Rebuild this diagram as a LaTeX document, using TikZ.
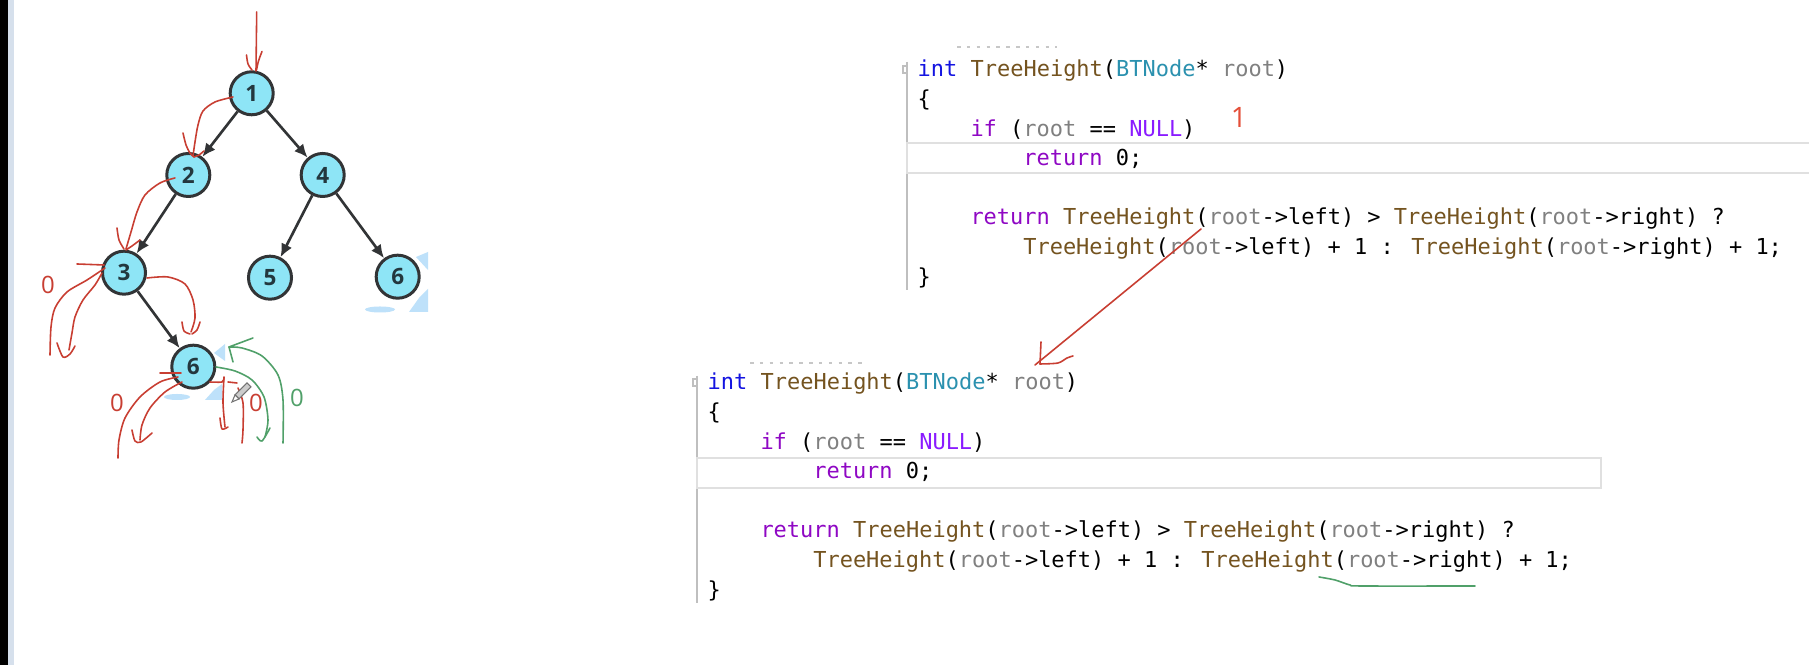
\documentclass[tikz,border=0pt]{standalone}
\usepackage{fontspec}
\usetikzlibrary{arrows.meta}
\newfontfamily\codefont{DejaVu Sans Mono}
\newfontfamily\labelfont{Open Sans}
\definecolor{kwBlue}{RGB}{20,20,225}
\definecolor{fnBrown}{RGB}{116,83,31}
\definecolor{tyTeal}{RGB}{43,145,175}
\definecolor{parGray}{RGB}{128,128,128}
\definecolor{ctlPurple}{RGB}{143,8,196}
\definecolor{macViolet}{RGB}{138,27,255}
\definecolor{redInk}{RGB}{200,62,50}
\definecolor{greenInk}{RGB}{80,160,105}
\definecolor{markRed}{RGB}{228,78,56}
\definecolor{nodeCyan}{RGB}{142,229,246}
\definecolor{edgeGray}{RGB}{50,52,54}
\definecolor{digitDark}{RGB}{35,55,62}
\definecolor{selBlue}{RGB}{190,225,250}
\definecolor{stripBlue}{RGB}{214,224,236}
\newcommand{\cKw}[1]{\textcolor{kwBlue}{#1}}
\newcommand{\cFn}[1]{\textcolor{fnBrown}{#1}}
\newcommand{\cTy}[1]{\textcolor{tyTeal}{#1}}
\newcommand{\cPar}[1]{\textcolor{parGray}{#1}}
\newcommand{\cCtl}[1]{\textcolor{ctlPurple}{#1}}
\newcommand{\cMac}[1]{\textcolor{macViolet}{#1}}

\begin{document}
\begin{tikzpicture}[x=0.01cm, y=-0.01cm, every node/.style={inner sep=0pt}]
  \def\ax{917}
  \def\ay{77}
  \def\bx{707}
  \def\by{390}
  \def\lh{29.6}
  \def\cw{13.2}

  \tikzset{
    tnode/.style={circle, draw=edgeGray, line width=0.85pt, fill=nodeCyan, minimum size=0.43cm, font=\labelfont\bfseries\fontsize{6.4}{7}\selectfont, text=digitDark},
    link/.style={draw=edgeGray, line width=0.75pt, -{Latex[length=3.8pt,width=3.4pt]}},
    codeline/.style={anchor=base west, font=\codefont\fontsize{6.25}{7.5}\selectfont},
    ink/.style={draw=redInk, line width=0.45pt, line cap=round, line join=round},
    gink/.style={draw=greenInk, line width=0.45pt, line cap=round, line join=round},
    hand/.style={font=\labelfont\fontsize{6.8}{7}\selectfont},
    curline/.style={draw=black!12, line width=0.5pt, fill=white},
    guide/.style={draw=black!25, line width=0.3pt},
    stub/.style={draw=black!22, line width=0.6pt, dash pattern=on 1pt off 1.8pt},
    sel/.style={fill=selBlue, draw=none}
  }

  \path[use as bounding box] (0,0) rectangle (1809,665);
  \fill[white] (0,0) rectangle (1809,665);

  % window edge on the left
  \fill[black] (0,0) rectangle (8,665);
  \fill[stripBlue] (8,0) rectangle (14,665);

  % selection marks left over round the two 6 nodes
  \path[sel] (416,257) -- (428,252) -- (428,270) -- cycle;
  \path[sel] (380,309.5) ellipse (15 and 3);
  \path[sel] (409,312) -- (419,298) -- (428,289) -- (428,312) -- cycle;
  \path[sel] (214,353) -- (225,344) -- (225,361) -- cycle;
  \path[sel] (177,397) ellipse (13 and 3);
  \path[sel] (205,400) -- (214,390) -- (222,384) -- (222,400) -- cycle;

  % tree
  \node[tnode] (n1) at (251.7,93.3) {1};
  \node[tnode] (n2) at (188.3,175) {2};
  \node[tnode] (n4) at (322.7,175) {4};
  \node[tnode] (n3) at (124,272.7) {3};
  \node[tnode] (n5) at (270,277.7) {5};
  \node[tnode] (n6r) at (397.7,276.7) {6};
  \node[tnode] (n6b) at (193.3,366.7) {6};

  \draw[link] (n1) -- (n2);
  \draw[link] (n1) -- (n4);
  \draw[link] (n2) -- (n3);
  \draw[link] (n4) -- (n5);
  \draw[link] (n4) -- (n6r);
  \draw[link] (n3) -- (n6b);

  % upper code block
  \draw[stub] (957,47) -- (1057,47);
  \draw[guide] (\ax-10,62) -- (\ax-10,290);
  \draw[guide] (\ax-14,66) rectangle (\ax-10,73);
  \path[curline] (\ax-10,143) rectangle (1812,173);
  \node[codeline] (a1) at (\ax,\ay) {\cKw{int} \cFn{TreeHeight}(\cTy{BTNode}* \cPar{root})};
  \node[codeline] (a2) at (\ax,\ay+\lh) {\{};
  \node[codeline] (a3) at (\ax+4*\cw,\ay+2*\lh) {\cCtl{if} (\cPar{root} == \cMac{NULL})};
  \node[codeline] (a4) at (\ax+8*\cw,\ay+3*\lh) {\cCtl{return} 0;};
  \node[codeline] (a6) at (\ax+4*\cw,\ay+5*\lh) {\cCtl{return} \cFn{TreeHeight}(\cPar{root}->left) > \cFn{TreeHeight}(\cPar{root}->right) ?};
  \node[codeline] (a7) at (\ax+8*\cw,\ay+6*\lh) {\cFn{TreeHeight}(\cPar{root}->left) + 1 : \cFn{TreeHeight}(\cPar{root}->right) + 1;};
  \node[codeline] (a8) at (\ax,\ay+7*\lh) {\}};
  \node[hand, text=markRed, font=\labelfont\fontsize{8}{9}\selectfont] (mark) at (1239,117) {1};

  % lower code block
  \draw[stub] (750,363) -- (865,363);
  \draw[guide] (\bx-10,376) -- (\bx-10,603);
  \draw[guide] (\bx-14,379) rectangle (\bx-10,386);
  \path[curline] (\bx-10,458) rectangle (1601,488);
  \node[codeline] (b1) at (\bx,\by) {\cKw{int} \cFn{TreeHeight}(\cTy{BTNode}* \cPar{root})};
  \node[codeline] (b2) at (\bx,\by+\lh) {\{};
  \node[codeline] (b3) at (\bx+4*\cw,\by+2*\lh) {\cCtl{if} (\cPar{root} == \cMac{NULL})};
  \node[codeline] (b4) at (\bx+8*\cw,\by+3*\lh) {\cCtl{return} 0;};
  \node[codeline] (b6) at (\bx+4*\cw,\by+5*\lh) {\cCtl{return} \cFn{TreeHeight}(\cPar{root}->left) > \cFn{TreeHeight}(\cPar{root}->right) ?};
  \node[codeline] (b7) at (\bx+8*\cw,\by+6*\lh) {\cFn{TreeHeight}(\cPar{root}->left) + 1 : \cFn{TreeHeight}(\cPar{root}->right) + 1;};
  \node[codeline] (b8) at (\bx,\by+7*\lh) {\}};

  % red call arrow from the upper block down to the lower one
  \coordinate (callfrom) at (1201,229);
  \coordinate (callto) at (1035,365);
  \draw[ink] (callfrom) -- (callto);
  \draw[ink] (1041,342) -- (1040,364);
  \draw[ink] plot[smooth] coordinates {(1040,364) (1058,363) (1067,358) (1073,356)};

  % green underline
  \draw[gink] plot[smooth] coordinates {(1319,577) (1335,580) (1350,585) (1362,586) (1475,586)};

  % red strokes on the tree
  \draw[ink] (256.7,12) -- (256,71);
  \draw[ink] plot[smooth] coordinates {(246.5,55) (248,64) (252,70)};
  \draw[ink] plot[smooth] coordinates {(262,51.5) (258.5,61) (256.5,70)};

  \draw[ink] plot[smooth] coordinates {(233,97) (215,102) (203,111) (198,125) (195,142) (193,156)};
  \draw[ink] plot[smooth] coordinates {(183,133) (186,145) (190,153) (194,157)};
  \draw[ink] plot[smooth] coordinates {(204,151) (199,155) (194,157)};

  \draw[ink] plot[smooth] coordinates {(175,178) (160,183) (145,195) (137,212) (131,232) (126,249)};
  \draw[ink] plot[smooth] coordinates {(117,228) (119,240) (124,249)};
  \draw[ink] plot[smooth] coordinates {(140,240) (132,246) (126,250)};

  \draw[ink] (77,264) -- (104,265);
  \draw[ink] plot[smooth] coordinates {(105,268) (87,280) (67,292) (55,308) (51,327) (50,355)};
  \draw[ink] plot[smooth] coordinates {(102,273) (95,285) (83,300) (75,317) (72,333) (69,350)};
  \draw[ink] plot[smooth] coordinates {(57,343) (63,357) (70,354) (75,346)};
  \node[hand, text=redInk] (z3) at (48,285) {0};

  \draw[ink] plot[smooth] coordinates {(147,278) (168,277) (185,284) (193,300) (195,318) (191,332)};
  \draw[ink] plot[smooth] coordinates {(182,322) (184,331) (190,334)};
  \draw[ink] plot[smooth] coordinates {(200,322) (197,330) (192,334)};

  \draw[ink] (160,373) -- (181,373);
  \draw[ink] plot[smooth] coordinates {(178,377) (160,382) (140,397) (125,418) (119,440) (118,458)};
  \draw[ink] plot[smooth] coordinates {(182,382) (165,392) (150,408) (142,425) (140,440)};
  \draw[ink] plot[smooth] coordinates {(132,430) (135,441) (141,442) (152,433)};
  \node[hand, text=redInk] (z6l) at (117,403) {0};

  \draw[ink] plot[smooth] coordinates {(210,382) (222,382) (224,378)};
  \draw[ink] plot[smooth] coordinates {(224,377) (223,403) (225,427)};
  \draw[ink] plot[smooth] coordinates {(220,418) (222,429) (228,427)};
  \draw[ink] (228,382) -- (237,383);
  \draw[ink] plot[smooth] coordinates {(238,388) (243,403) (243,430) (242,443)};
  \node[hand, text=redInk] (z6r) at (256,403) {0};

  % green strokes on the tree
  \draw[gink] plot[smooth] coordinates {(216,367) (235,371) (252,380) (264,397) (268,420) (265,437)};
  \draw[gink] plot[smooth] coordinates {(257,437) (262,441) (270,428)};
  \draw[gink] plot[smooth] coordinates {(283,443) (283,400) (278,375) (262,356) (242,348) (229,347)};
  \draw[gink] (253,338) -- (229,347) -- (233,362);
  \node[hand, text=greenInk] (zg) at (297,398) {0};

  % pencil cursor
  \draw[draw=black!55, fill=black!20, line width=0.3pt] (235,395) -- (247,383) -- (251,387) -- (239,399) -- cycle;
  \draw[draw=black!55, fill=white, line width=0.3pt] (235,395) -- (232,402) -- (239,399) -- cycle;

\end{tikzpicture}
\end{document}
